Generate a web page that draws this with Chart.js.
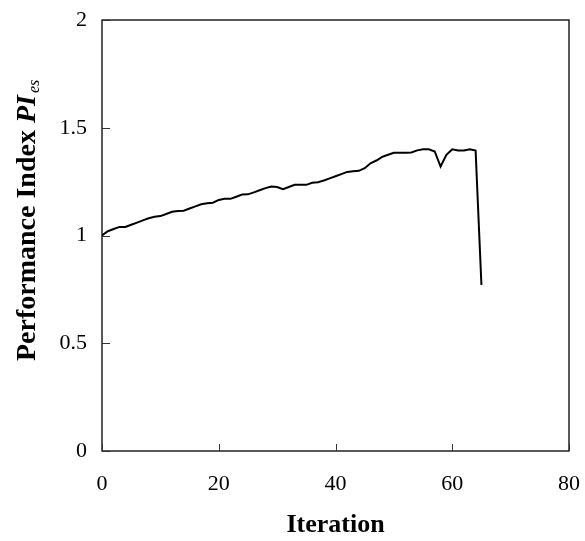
<!DOCTYPE html>
<html>
<head>
<meta charset="utf-8">
<script src="https://cdn.jsdelivr.net/npm/chart.js@4/dist/chart.umd.min.js"></script>
<style>
  html, body { margin: 0; padding: 0; background: #fff; }
  #wrap { width: 585px; height: 541px; }
</style>
</head>
<body>
<div id="wrap"><canvas id="c" width="585" height="541"></canvas></div>
<script>
const iterations = [0,1,2,3,4,5,6,7,8,9,10,11,12,13,14,15,16,17,18,19,20,21,22,23,24,25,26,27,28,29,30,31,32,33,34,35,36,37,38,39,40,41,42,43,44,45,46,47,48,49,50,51,52,53,54,55,56,57,58,59,60,61,62,63,64,65];
const performanceIndex = [1.00,1.02,1.03,1.04,1.04,1.05,1.06,1.07,1.08,1.087,1.09,1.10,1.11,1.114,1.115,1.125,1.135,1.145,1.15,1.152,1.165,1.17,1.17,1.18,1.19,1.191,1.20,1.21,1.22,1.227,1.225,1.215,1.225,1.235,1.235,1.235,1.245,1.247,1.255,1.265,1.275,1.285,1.295,1.298,1.30,1.312,1.335,1.348,1.365,1.375,1.384,1.384,1.384,1.385,1.395,1.40,1.40,1.39,1.32,1.374,1.40,1.394,1.394,1.40,1.394,0.77];
const xTicks = [0,20,40,60,80];
const yTicks = [0,0.5,1,1.5,2];
const xTitle = "Iteration";
const yTitleMain = "Performance Index ";
const yTitleSym = "PI";
const yTitleSub = "es";

const FONT = "'Liberation Serif','Times New Roman',serif";

const points = iterations.map((x, i) => ({x: x, y: performanceIndex[i]}));

const framePlugin = {
  id: 'frame',
  afterDraw(chart) {
    const {ctx, chartArea: a, scales} = chart;
    ctx.save();
    ctx.strokeStyle = '#000';
    ctx.lineWidth = 1.3;
    ctx.strokeRect(a.left, a.top, a.right - a.left, a.bottom - a.top);
    // inward tick marks
    ctx.lineWidth = 1;
    ctx.strokeStyle = '#333';
    xTicks.forEach(v => {
      const px = Math.round(scales.x.getPixelForValue(v)) + 0.5;
      ctx.beginPath(); ctx.moveTo(px, a.bottom); ctx.lineTo(px, a.bottom - 7); ctx.stroke();
    });
    yTicks.forEach(v => {
      const py = Math.round(scales.y.getPixelForValue(v)) + 0.5;
      ctx.beginPath(); ctx.moveTo(a.left, py); ctx.lineTo(a.left + 8, py); ctx.stroke();
    });
    // y axis title with mixed styles
    ctx.translate(35, 361);
    ctx.rotate(-Math.PI / 2);
    ctx.fillStyle = '#000';
    ctx.textBaseline = 'alphabetic';
    ctx.textAlign = 'left';
    let x = 0;
    ctx.font = "bold 28px " + FONT;
    ctx.fillText(yTitleMain, x, 0);
    x += ctx.measureText(yTitleMain).width;
    ctx.font = "italic bold 28px " + FONT;
    ctx.fillText(yTitleSym, x, 0);
    x += ctx.measureText(yTitleSym).width + 2;
    ctx.font = "italic 16px " + FONT;
    ctx.fillText(yTitleSub, x, 4);
    ctx.restore();
  }
};

function zeroPad(s) { s.paddingTop = 0; s.paddingBottom = 0; s.paddingLeft = 0; s.paddingRight = 0; }

new Chart(document.getElementById('c'), {
  type: 'scatter',
  data: {
    datasets: [{
      data: points,
      showLine: true,
      borderColor: '#000',
      borderWidth: 2,
      pointRadius: 0,
      tension: 0,
      fill: false
    }]
  },
  options: {
    responsive: false,
    animation: false,
    plugins: { legend: { display: false }, tooltip: { enabled: false } },
    layout: { padding: { top: 20, right: 16, left: 0, bottom: 0 } },
    scales: {
      x: {
        type: 'linear', min: 0, max: 80,
        afterBuildTicks(s) { s.ticks = xTicks.map(v => ({value: v})); },
        afterFit(s) { s.height = 90; zeroPad(s); },
        grid: { display: false, drawTicks: false },
        border: { display: false },
        ticks: { color: '#000', padding: 20, font: { family: FONT, size: 22 } },
        title: { display: true, text: xTitle, color: '#000', padding: { top: 0, bottom: 0 }, font: { family: FONT, size: 26, weight: 'bold' } }
      },
      y: {
        type: 'linear', min: 0, max: 2,
        afterBuildTicks(s) { s.ticks = yTicks.map(v => ({value: v})); },
        afterFit(s) { s.width = 102; zeroPad(s); },
        grid: { display: false, drawTicks: false },
        border: { display: false },
        ticks: { color: '#000', padding: 15, font: { family: FONT, size: 22 }, callback: v => String(v) }
      }
    }
  },
  plugins: [framePlugin]
});
</script>
</body>
</html>
